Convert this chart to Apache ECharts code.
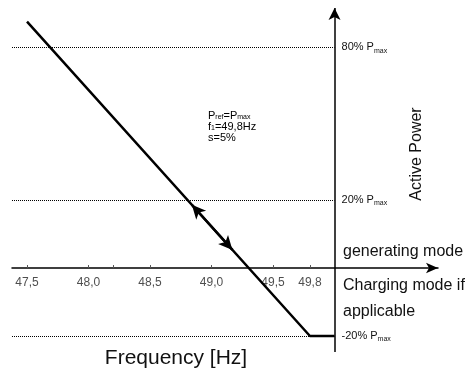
<!DOCTYPE html>
<html>
<head>
<meta charset="utf-8">
<script src="https://cdn.jsdelivr.net/npm/echarts@6/dist/echarts.min.js"></script>
<style>html,body{margin:0;padding:0;background:#fff}#c{width:465px;height:370px}</style>
</head>
<body>
<div id="c"></div>
<script>
// ---- data ----
const freqTicks = [47.5, 48.0, 48.2, 48.5, 49.0, 49.5, 49.8];
const freqLabels = [47.5, 48.0, 48.5, 49.0, 49.5, 49.8];
const curveFreq = [47.5, 49.8, 50.0];
const curvePower = [72.5, -20, -20];           // schematic power scale
const refLevels = [65, 20, -20];               // schematic positions of reference levels
const refLabels = ['80%', '20%', '-20%'];
const arrowFreq = [48.84, 49.17];              // double-arrow segment on curve
const axisFreq = 50.0;                          // position of power axis

const FONT = "'Liberation Sans', Arial, sans-serif";
const xMin = 47.378, xMax = 50.841, yMin = -24.7, yMax = 76.5;

function curveAt(f) {
  const s = (curvePower[0] - curvePower[1]) / (curveFreq[1] - curveFreq[0]);
  return curvePower[1] + (curveFreq[1] - f) * s;
}

const chart = echarts.init(document.getElementById('c'), null, {renderer: 'canvas'});
const subRich = {
  a: {fontFamily: FONT, fontSize: 11, color: '#111', lineHeight: 14},
  b: {fontFamily: FONT, fontSize: 7, color: '#111', lineHeight: 8, verticalAlign: 'bottom'}
};

chart.setOption({
  animation: false,
  grid: {left: 12, right: 27, top: 8, bottom: 18},
  xAxis: {
    type: 'value', min: xMin, max: xMax,
    splitLine: {show: false},
    axisLine: {onZero: true, lineStyle: {color: '#000', width: 1.5}, symbol: ['none', 'arrow'], symbolSize: [8, 12]},
    axisTick: {show: true, customValues: freqTicks, length: 3, inside: true, lineStyle: {color: '#555'}},
    axisLabel: {show: false}
  },
  yAxis: {
    type: 'value', min: yMin, max: yMax, show: false, splitLine: {show: false}
  },
  series: [{
    type: 'line',
    data: curveFreq.map((f, i) => [f, curvePower[i]]),
    symbol: 'none',
    lineStyle: {color: '#000', width: 2.5},
    z: 5,
    markLine: {
      silent: true,
      symbol: 'none',
      data: refLevels.map((v, i) => [
        {coord: [xMin, v], lineStyle: {type: 'dotted', color: '#000', width: 1},
         label: {show: true, position: 'end', distance: 7,
           formatter: '{a|' + refLabels[i] + ' P}{b|max}', rich: subRich}},
        {coord: [axisFreq, v]}
      ]).concat([
        [{coord: [axisFreq, yMin], symbol: 'none', lineStyle: {type: 'solid', color: '#000', width: 1.5}, label: {show: false}},
         {coord: [axisFreq, yMax], symbol: 'arrow', symbolSize: [9, 12]}],
        [{coord: [arrowFreq[0], curveAt(arrowFreq[0])], symbol: 'arrow', symbolSize: [10, 14],
          lineStyle: {type: 'solid', color: '#000', width: 2.5}, label: {show: false}},
         {coord: [arrowFreq[1], curveAt(arrowFreq[1])], symbol: 'arrow', symbolSize: [10, 14]}]
      ])
    }
  }, {
    type: 'scatter',
    data: freqLabels.map(f => [f, 0]),
    symbolSize: 0,
    silent: true,
    label: {show: true, position: 'bottom', distance: 9, fontFamily: FONT, fontSize: 12, color: '#222',
      formatter: p => p.value[0].toFixed(1).replace('.', ',')}
  }],
  graphic: [
    {type: 'text', x: 208, y: 110, style: {
      text: '{n|P}{s|ref}{n|=P}{s|max}\n{n|f}{s|1}{n|=49,8Hz}\n{n|s=5%}',
      rich: {
        n: {fontFamily: FONT, fontSize: 11, color: '#111', lineHeight: 11},
        s: {fontFamily: FONT, fontSize: 7, color: '#111', lineHeight: 7, verticalAlign: 'bottom'}
      }}},
    {type: 'text', x: 417, y: 154, rotation: Math.PI / 2,
      style: {text: 'Active Power', fontFamily: FONT, fontSize: 16, fill: '#111', align: 'center', verticalAlign: 'middle'}},
    {type: 'text', x: 343, y: 252,
      style: {text: 'generating mode', fontFamily: FONT, fontSize: 16, fill: '#111', verticalAlign: 'middle'}},
    {type: 'text', x: 343, y: 286,
      style: {text: 'Charging mode if', fontFamily: FONT, fontSize: 16, fill: '#111', verticalAlign: 'middle'}},
    {type: 'text', x: 343, y: 312,
      style: {text: 'applicable', fontFamily: FONT, fontSize: 16, fill: '#111', verticalAlign: 'middle'}},
    {type: 'text', x: 176, y: 358,
      style: {text: 'Frequency [Hz]', fontFamily: FONT, fontSize: 21, fill: '#111', align: 'center', verticalAlign: 'middle'}}
  ]
});
</script>
</body>
</html>
